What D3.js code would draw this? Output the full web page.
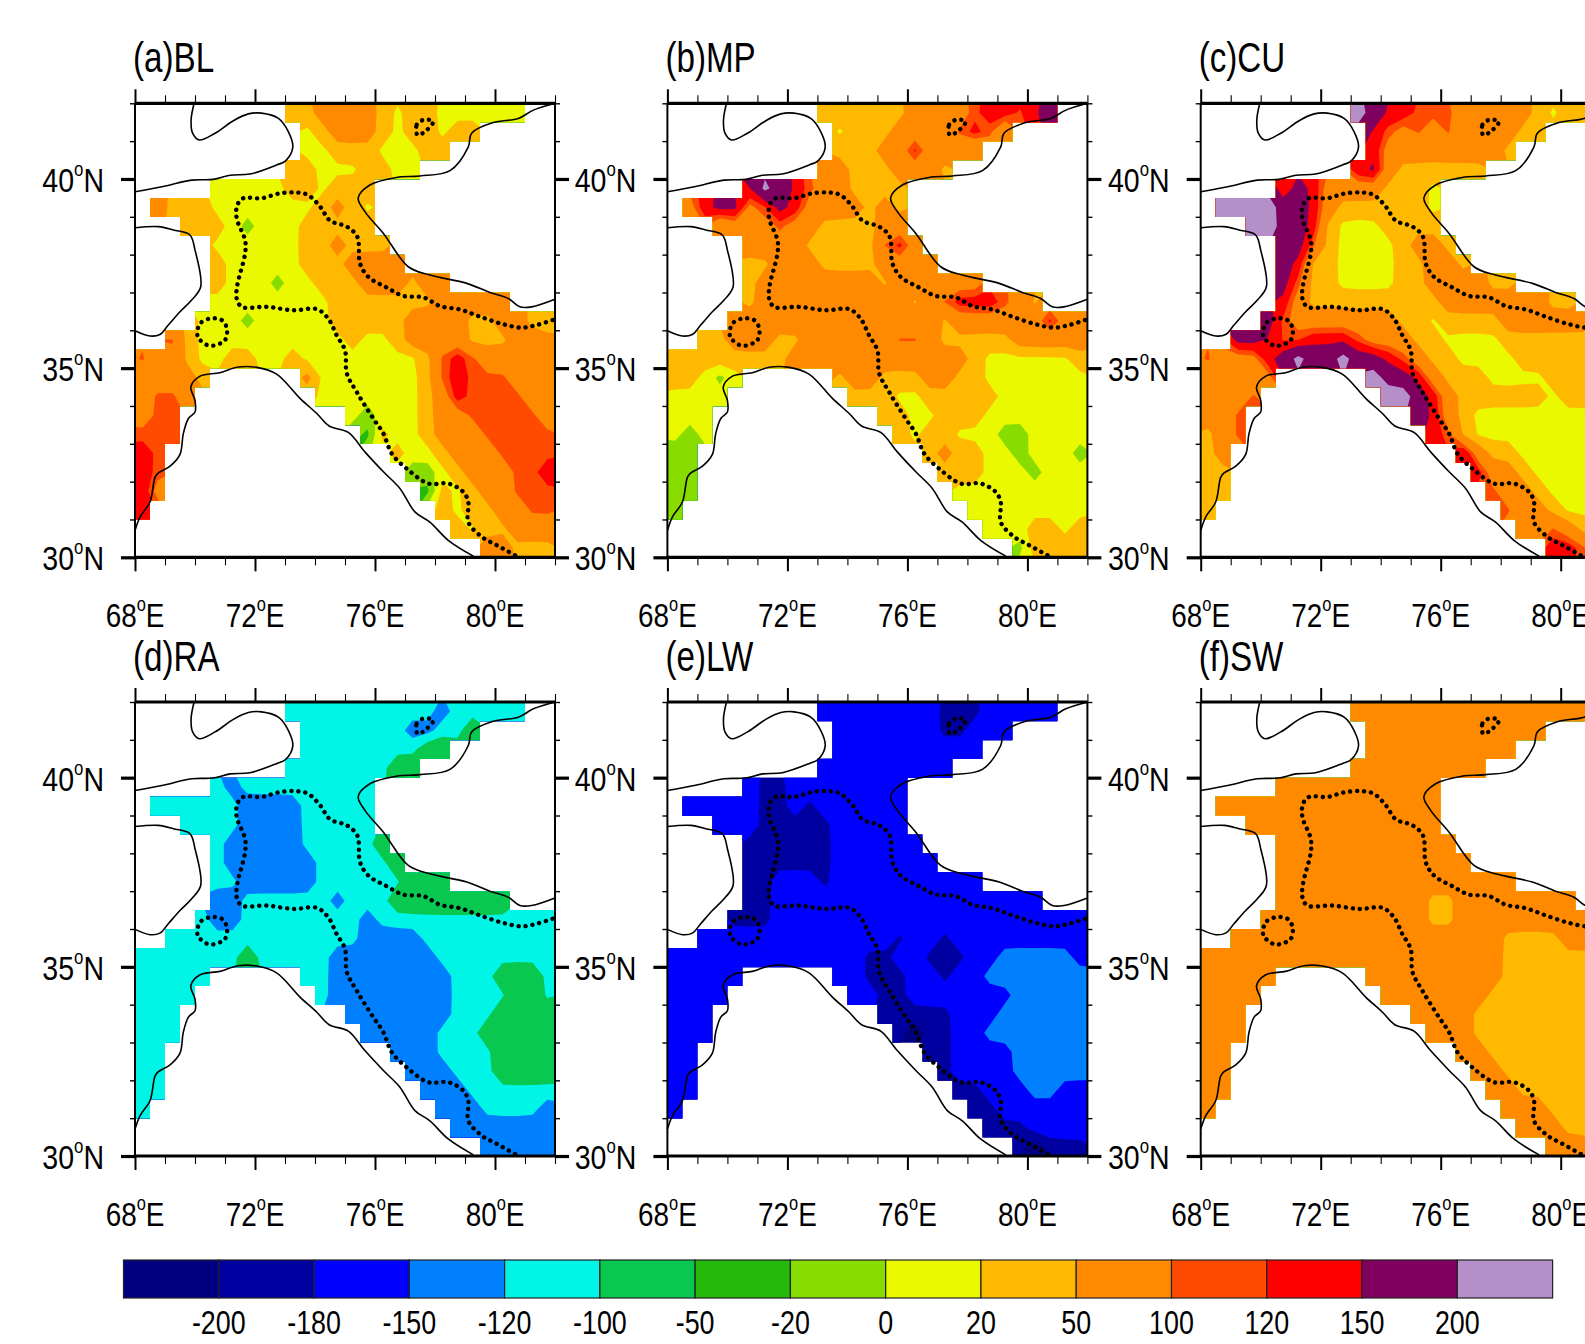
<!DOCTYPE html>
<html>
<head>
<meta charset="utf-8">
<title>Heating terms</title>
<script src="https://cdn.jsdelivr.net/npm/d3@7"></script>
<style>
    html, body { margin: 0; background: #fff; }
    svg { display: block; overflow: hidden; }
    text { font-family: "Liberation Sans", Arial, sans-serif; fill: #000; }
</style>
</head>
<body>
<div id="chart"></div>
<script>
// contour levels and the 15 fill colours between them
var levels = [-200, -180, -150, -120, -100, -50, -20, 0, 20, 50, 100, 120, 150, 200];
var colors = ["#000080", "#0000a0", "#0000ff", "#0080ff", "#00f5e6", "#08c850", "#25b90c", "#88dc00",
    "#eaf900", "#ffb900", "#ff8a00", "#ff4b00", "#ff0000", "#800060", "#b48fc8"];

// value read for each letter a..o, one per colour class
var classCodes = "abcdefghijklmno";
var classValues = [-225, -190, -165, -135, -110, -75, -35, -14, 10, 35, 75, 110, 145, 175, 235];

var lonMajor = [68, 72, 76, 80];
var lonMinor = [69, 70, 71, 73, 74, 75, 77, 78, 79, 81, 82];
var latMajor = [30, 35, 40];
var latMinor = [31, 32, 33, 34, 36, 37, 38, 39, 41, 42];

// 0.5 degree cells with data, row 0 at 42N, [first column, last column] from 68E
var maskSpans = [
    [[10, 25]], [[11, 22]], [[11, 20]], [[10, 18]], [[5, 15]], [[1, 15]], [[3, 15]], [[5, 16]],
    [[5, 17]], [[5, 20]], [[5, 24]], [[4, 27]], [[2, 27]], [[0, 27]],
    [[0, 4], [11, 27]], [[0, 3], [12, 27]], [[0, 2], [14, 27]], [[0, 2], [15, 27]],
    [[0, 1], [17, 27]], [[0, 1], [18, 27]], [[0, 1], [19, 27]], [[0, 0], [20, 27]],
    [[21, 27]], [[23, 27]]
];

var blRows = [
    "jjkkkkjijjiiiiii", "ijkkkjijjijj", "iijjjiiijj", "jjiiijjii", "iiiiijjijjj", "kjjjiiiiiiijkji",
    "jjjihiiijjjjj", "iiiiiijjkjjj", "jiiiiijjjkkkk", "jiiihiijjjkkkjkk", "iiiiiiiijjjjjjjkkkkk",
    "iiihiiiiijjjjjkkkkjjkkji", "ljiiiiiiiiiijiijkkkkjjjkkk", "lkljiijjiijiiiiiiiijlmlkkkkk",
    "kkkkj kiiiiiiijlmlllkkk", "kllk iiiiiiijkmllllkk", "kll ihiiijkklllllk", "lll gjiijkkklllll",
    "ml jiijkkkllll", "ml hhijkkkllm", "mk gjijkklll", "m jijjkkll", "jijjkkk", "kkjjj"
];
var mpRows = [
    "jjjjjjkkkklmmlmn", "ijjjkkkklmlj", "jjjkkmkkkj", "kkjjjkkkj", "monmlkkjjjj", "kmnnklnmkkkkjkj",
    "jkkklkkjjjjkk", "kkkkjjjjjlmk", "jjkkkjjjjkkkk", "jkkkkkkkkjkkkkkk", "jkkkkkkkkkkjklmmmlkj",
    "kkkkkkkkkkkkkkjkkkklkmkk", "jjkkkjjkkkkkkllkjjjjjkkkkk", "jjjjjjjjkkkkkkkkkkkkjiiiiiij",
    "jjihi jkkjjjkkjjiiiiiii", "iiii jjjiijjjjjiiiiii", "iii jjiijjjiiiiiii", "ihi jijjiiihhiiii",
    "hh jkjjiihiiih", "hh jjjiiihiii", "hh iiiiiiiii", "h iiiiiiii", "iiijjij", "hjjjj"
];
var cuRows = [
    "onmmlllkkkkkjijj", "mlklklkkkkjj", "mkkkkkkkkj", "mnkjjjjjj", "lnmkkkkjjji", "oooonnmkjjjjjji",
    "oonnmjiiijjjj", "nnljiiiijkkj", "nmjjiiiijjkkj", "nljjiiiijjkkkkjj", "mkjjjjjjjjjkkkkkkkjj",
    "nlkkkkkkkjjijjjjkkkkkkjj", "nnmllmmmlkkkjjiiiijjjjjjjj", "lkkkmnonnonnmlkjjiiiijjjjjjj",
    "kkkkk onnmkjjjiiiijjjjj", "kkkl oonmkjjjjjjijjjjj", "kkl nmkjiiiiiiiiii", "jkl mljiiiiiiiiii",
    "jk nkjjiiiiiii", "jj mkkjiiiiii", "jj lkkjiiiii", "j lkkjiiii", "kklkjjj", "mmlkk"
];
var raRows = [
    "eeeeeeeeeedeeeee", "eeeeeeeddeef", "eeeeeeeeff", "eeeeeeeff", "edeeeeeeeee", "eeeeeeddddeeeee",
    "eeeeddddeeeee", "edddddeeeeef", "eddddddeeeeef", "eedddddeeeeeefff", "ddeeeeeedeeeffffffff",
    "eddeeeeeeeedeeeeeeeeeeee", "eeeeeeeeeeeeeddddeeeeeeeee", "eeeeeeefeeeeedddddddeeeeeeee",
    "eeeee eeddddddddeeefffe", "eeee eddddddddeeeeffe", "eee dddddddeeeffff", "eee dddddeeefffff",
    "ee dddeeeeffff", "ee dddeeeffff", "ee dddeeeeee", "e dddeeeed", "ddddddd", "ddddd"
];
var lwRows = [
    "ccccccccbbbccccc", "cccccccbbccc", "cccccccccc", "ccccccccc", "cbbcccccccc", "cccccbbcbcccccc",
    "cccbbbbbccccc", "bbbbbbcccccc", "bbbbbbccccccc", "bbcccbcccccccccc", "bbcccccccccccccccccc",
    "bbbccccccccccccccccccccc", "cccccccccccccbccbccccccccc", "cccccccccccccbbccbbbccdddddc",
    "ccccc ccbbbccbccddddddd", "cccc ccbbcccccccddddd", "ccc bbbbbcccdddddd", "ccc babbccddddddd",
    "cc bbccccddddd", "cc bccccddddd", "cc bbcccddcc", "c bbcccccc", "bbbcccc", "babbb"
];
var swRows = [
    "kkkkkkkkkkkkkkkk", "kkkkkkkkkkkk", "kkkkkkkkkk", "kkkkkkkkk", "kkkkkkkkkkk", "kkkkkkkkkkkkkkk",
    "kkkkkkkkkkkkk", "kkkkkkkkkkkk", "kkkkkkkkkkkkk", "kkkkkkkkkkkkkkkk", "kkkkkkkkkkjjkkkkkkkk",
    "kkkkkkkkkkkjjkkkkkkkkkkk", "kkkkkkkkkkkkkkkkkkjjjjkkkk", "kkkkkkkkkkkkkkkkkkkkjjjjjjjj",
    "kkkkk kkkkkkkkkjjjjjjjj", "kkkk kkkkkkkjjjjjjjjj", "kkk kkkkjjjjjjjjjj", "kkk kkkjjjjjjjjjj",
    "kk kkjjjjjjjjj", "kk kkjjjjjjjj", "kk kkjjjjjjj", "k kkkjjjjj", "kkkjjjj", "kkkjj"
];

// lon, lat of the map outlines
var coastNorth = [[69.97, 42], [69.87, 41.56], [69.92, 41.21], [70.14, 41.03], [70.67, 41.21], [71.28, 41.54],
    [71.78, 41.72], [72.22, 41.74], [72.78, 41.6], [73.11, 41.25], [73.26, 40.84], [73.02, 40.48], [72.72, 40.37],
    [71.83, 40.13], [71.17, 40.1], [70.61, 39.99], [69.89, 39.97], [68.94, 39.8], [68, 39.66]];
var coastWest = [[68, 38.71], [68.78, 38.74], [69.28, 38.65], [69.83, 38.52], [70, 38.12], [70.19, 37.15],
    [69.89, 36.8], [69.5, 36.49], [69.11, 36.14], [68.83, 35.89], [68.5, 35.85], [68, 35.99]];
var coastSouth = [[68, 30.71], [68.17, 31.07], [68.5, 31.46], [68.67, 32.12], [68.78, 32.23], [69.17, 32.41],
    [69.5, 32.72], [69.61, 33.27], [69.78, 33.67], [70, 33.84], [70, 34.15], [69.86, 34.5], [70.17, 34.79],
    [70.83, 34.88], [71.44, 35.03], [72.06, 35.02], [72.72, 34.84], [73.5, 34.2], [74.06, 33.8], [74.47, 33.47],
    [75.11, 33.3], [75.67, 32.78], [76.28, 32.26], [76.83, 31.82], [77.33, 31.2], [77.83, 30.93], [78.44, 30.45],
    [79.28, 30.03]];
var coastEast = [[82, 42], [81.28, 41.82], [80.78, 41.6], [79.94, 41.49], [79.22, 41.21], [79.11, 40.85],
    [78.5, 40.22], [77.5, 40.08], [76.72, 40.04], [75.83, 39.84], [75.44, 39.5], [75.67, 39.13], [76.28, 38.56],
    [77.11, 37.68], [77.83, 37.46], [79.06, 37.24], [79.83, 37], [80.44, 36.84], [80.83, 36.62], [81.22, 36.62],
    [82, 36.82]];
var dottedMain = [[81.92, 36.27], [81.39, 36.14], [80.89, 36.07], [80.28, 36.16], [79.5, 36.36], [78.83, 36.55],
    [78.17, 36.64], [77.61, 36.87], [76.94, 36.91], [76.39, 37.13], [75.78, 37.41], [75.5, 37.77], [75.41, 38.47],
    [75.06, 38.74], [74.5, 38.9], [74.17, 39.27], [73.78, 39.57], [73.44, 39.64], [72.83, 39.62], [72.22, 39.49],
    [71.61, 39.49], [71.41, 39.31], [71.39, 38.96], [71.67, 38.38], [71.67, 38.03], [71.41, 37.19], [71.39, 36.84],
    [71.56, 36.62], [72.39, 36.62], [73.28, 36.53], [74.06, 36.56], [74.44, 36.31], [74.72, 35.87], [75, 35.47],
    [75.06, 34.86], [75.39, 34.37], [75.94, 33.67], [76.28, 33.27], [76.56, 32.74], [77.06, 32.34], [77.78, 31.95],
    [78.44, 31.95], [78.94, 31.73], [79.11, 31.46], [79.11, 30.93], [79.56, 30.54], [80.06, 30.32], [80.72, 30.03]];
var dottedRing = [[70.5, 36.31], [70.89, 36.27], [71.06, 36.05], [71, 35.74], [70.5, 35.59], [70.17, 35.74],
    [70.08, 35.87], [70.17, 36.18]];
var dottedSmall = [[77.42, 41.16], [77.39, 41.43], [77.61, 41.56], [77.94, 41.52], [77.72, 41.29]];

var panelTitles = ["(a)BL", "(b)MP", "(c)CU", "(d)RA", "(e)LW", "(f)SW"];
var panelRows = [blRows, mpRows, cuRows, raRows, lwRows, swRows];

var width = 1585,
    height = 1344,
    mapWidth = 420,
    mapHeight = 454,
    columnX = [135, 667.4, 1200.7],
    rowY = [103.3, 702],
    nx = 28,
    ny = 24;

var svg = d3.select("#chart").append("svg")
    .attr("width", width)
    .attr("height", height);

var xScale = d3.scaleLinear().domain([68, 82]).range([0, mapWidth]);
var yScale = d3.scaleLinear().domain([30, 42]).range([mapHeight, 0]);

var colX = function (c) { return xScale(68 + c / 2); };
var rowYpos = function (r) { return yScale(42 - r / 2); };

// union of the data cells, the contours get cut to it
var cellSpans = [];
maskSpans.forEach(function (spans, r) {
    spans.forEach(function (s) { cellSpans.push({r: r, first: s[0], last: s[1]}); });
});
svg.append("defs").append("clipPath").attr("id", "cells")
    .selectAll("rect").data(cellSpans).join("rect")
    .attr("x", function (d) { return colX(d.first); })
    .attr("y", function (d) { return rowYpos(d.r); })
    .attr("width", function (d) { return colX(d.last + 1) - colX(d.first); })
    .attr("height", function (d) { return rowYpos(d.r + 1) - rowYpos(d.r) + 0.3; });

// rows -> grid with one extra cell all round; empty cells borrow from neighbours
// so contours do not bend at the mask
function buildGrid(rows) {
    var w = nx + 2, h = ny + 2;
    var grid = new Array(w * h).fill(NaN);
    rows.forEach(function (row, r) {
        row.split(" ").forEach(function (segment, s) {
            var span = maskSpans[r][s];
            for (var c = span[0]; c <= span[1]; c++) {
                var code = segment[Math.min(c - span[0], segment.length - 1)];
                grid[(r + 1) * w + c + 1] = classValues[classCodes.indexOf(code)];
            }
        });
    });
    var missing = true;
    while (missing) {
        missing = false;
        var next = grid.slice();
        for (var r = 0; r < h; r++) {
            for (var c = 0; c < w; c++) {
                if (!isNaN(grid[r * w + c])) continue;
                var near = [];
                for (var dr = -1; dr <= 1; dr++) {
                    for (var dc = -1; dc <= 1; dc++) {
                        var rr = r + dr, cc = c + dc;
                        if (rr >= 0 && rr < h && cc >= 0 && cc < w && !isNaN(grid[rr * w + cc])) {
                            near.push(grid[rr * w + cc]);
                        }
                    }
                }
                if (near.length) next[r * w + c] = d3.mean(near);
                else missing = true;
            }
        }
        grid = next;
    }
    return soften(grid, w, h);
}

// light 1-10-1 pass each way, takes the stair steps out of the contour lines
function soften(grid, w, h) {
    var across = grid.slice();
    for (var r = 0; r < h; r++) {
        for (var c = 1; c < w - 1; c++) {
            across[r * w + c] = (grid[r * w + c - 1] + 10 * grid[r * w + c] + grid[r * w + c + 1]) / 12;
        }
    }
    var down = across.slice();
    for (var r2 = 1; r2 < h - 1; r2++) {
        for (var c2 = 0; c2 < w; c2++) {
            down[r2 * w + c2] = (across[(r2 - 1) * w + c2] + 10 * across[r2 * w + c2] + across[(r2 + 1) * w + c2]) / 12;
        }
    }
    return down;
}

var contours = d3.contours().size([nx + 2, ny + 2]).thresholds(levels);
var gridPath = d3.geoPath(d3.geoTransform({
    point: function (x, y) { this.stream.point(colX(x - 1), rowYpos(y - 1)); }
}));

var openLine = d3.line()
    .x(function (d) { return xScale(d[0]); })
    .y(function (d) { return yScale(d[1]); })
    .curve(d3.curveCatmullRom);
var closedLine = d3.line()
    .x(function (d) { return xScale(d[0]); })
    .y(function (d) { return yScale(d[1]); })
    .curve(d3.curveCatmullRomClosed);

// text is set narrow in the original, so squash it around its anchor
function placeText(sel, squash, x, y) {
    sel.attr("transform", function (d, i) {
        return "translate(" + x(d, i) + "," + y(d, i) + ") scale(" + squash + ",1)";
    });
}

function degreeLabel(sel, suffix) {
    sel.each(function (d) {
        var t = d3.select(this);
        t.append("tspan").text(d);
        t.append("tspan").attr("font-size", 20).attr("dy", -16).text("o");
        t.append("tspan").attr("dy", 16).text(suffix);
    });
}

function styleTicks(g, lineWidth) {
    g.select(".domain").remove();
    g.selectAll("line").attr("stroke", "#000").attr("stroke-width", lineWidth);
}

function drawPanel(index) {
    var col = index % 3,
        row = Math.floor(index / 3);
    var panel = svg.append("g")
        .attr("transform", "translate(" + columnX[col] + "," + rowY[row] + ")");

    // fills
    var fills = panel.append("g").attr("clip-path", "url(#cells)");
    fills.append("rect")
        .attr("width", mapWidth)
        .attr("height", mapHeight)
        .attr("fill", colors[0]);
    fills.selectAll("path")
        .data(contours(buildGrid(panelRows[index])))
        .join("path")
        .attr("d", gridPath)
        .attr("fill", function (d, i) { return colors[i + 1]; });

    // coast
    panel.append("g").selectAll("path")
        .data([coastNorth, coastWest, coastSouth, coastEast])
        .join("path")
        .attr("d", openLine)
        .attr("fill", "none")
        .attr("stroke", "#000")
        .attr("stroke-width", 1.6);

    // dotted outline
    var dotted = panel.append("g")
        .attr("fill", "none")
        .attr("stroke", "#000")
        .attr("stroke-width", 4.4)
        .attr("stroke-linecap", "round")
        .attr("stroke-dasharray", "0.1 6.9");
    dotted.append("path").datum(dottedMain).attr("d", openLine);
    dotted.append("path").datum(dottedRing).attr("d", closedLine);
    dotted.append("path").datum(dottedSmall).attr("d", closedLine);

    // axes, minor then major, on all four sides
    var axisSets = [
        {make: d3.axisBottom, scale: xScale, at: "translate(0," + mapHeight + ")", minor: lonMinor, major: lonMajor, minorLen: 8, minorW: 1.1, majorW: 2},
        {make: d3.axisTop, scale: xScale, at: "translate(0,0)", minor: lonMinor, major: lonMajor, minorLen: 8, minorW: 1.1, majorW: 2},
        {make: d3.axisLeft, scale: yScale, at: "translate(0,0)", minor: latMinor, major: latMajor, minorLen: 5, minorW: 1.4, majorW: 3.2},
        {make: d3.axisRight, scale: yScale, at: "translate(" + mapWidth + ",0)", minor: latMinor, major: latMajor, minorLen: 5, minorW: 1.4, majorW: 3.2}
    ];
    axisSets.forEach(function (a) {
        panel.append("g").attr("transform", a.at)
            .call(a.make(a.scale).tickValues(a.minor).tickSize(a.minorLen).tickFormat(""))
            .call(styleTicks, a.minorW);
        panel.append("g").attr("transform", a.at)
            .call(a.make(a.scale).tickValues(a.major).tickSize(14).tickFormat(""))
            .call(styleTicks, a.majorW);
    });

    // frame, the horizontal sides read heavier
    panel.selectAll("line.frame-h").data([0, mapHeight]).join("line")
        .attr("class", "frame-h")
        .attr("x1", 0).attr("x2", mapWidth)
        .attr("y1", function (d) { return d; }).attr("y2", function (d) { return d; })
        .attr("stroke", "#000").attr("stroke-width", 3.2);
    panel.selectAll("line.frame-v").data([0, mapWidth]).join("line")
        .attr("class", "frame-v")
        .attr("x1", function (d) { return d; }).attr("x2", function (d) { return d; })
        .attr("y1", 0).attr("y2", mapHeight)
        .attr("stroke", "#000").attr("stroke-width", 2);

    // labels
    panel.selectAll("text.lon").data(lonMajor).join("text")
        .attr("class", "lon")
        .attr("font-size", 34)
        .attr("text-anchor", "middle")
        .call(placeText, 0.82, function (d) { return xScale(d); }, function () { return mapHeight + 70; })
        .call(degreeLabel, "E");
    panel.selectAll("text.lat").data(latMajor).join("text")
        .attr("class", "lat")
        .attr("font-size", 34)
        .attr("text-anchor", "end")
        .call(placeText, 0.84, function () { return -31; }, function (d) { return yScale(d) + 13; })
        .call(degreeLabel, "N");
    panel.append("text")
        .datum(panelTitles[index])
        .attr("font-size", 42)
        .call(placeText, 0.79, function () { return -2; }, function () { return -31; })
        .text(function (d) { return d; });
}

d3.range(panelRows.length).forEach(drawPanel);

// colour bar
var barBand = d3.scaleBand().domain(d3.range(colors.length)).range([123.5, 1552.6]);
var bar = svg.append("g");
bar.selectAll("rect").data(colors).join("rect")
    .attr("x", function (d, i) { return barBand(i); })
    .attr("y", 1260)
    .attr("width", barBand.bandwidth())
    .attr("height", 38)
    .attr("fill", function (d) { return d; })
    .attr("stroke", "#222")
    .attr("stroke-width", 1.2);
bar.selectAll("text").data(levels).join("text")
    .attr("font-size", 34)
    .attr("text-anchor", "middle")
    .call(placeText, 0.79, function (d, i) { return barBand(i + 1); }, function () { return 1334; })
    .text(function (d) { return d; });
</script>
</body>
</html>
